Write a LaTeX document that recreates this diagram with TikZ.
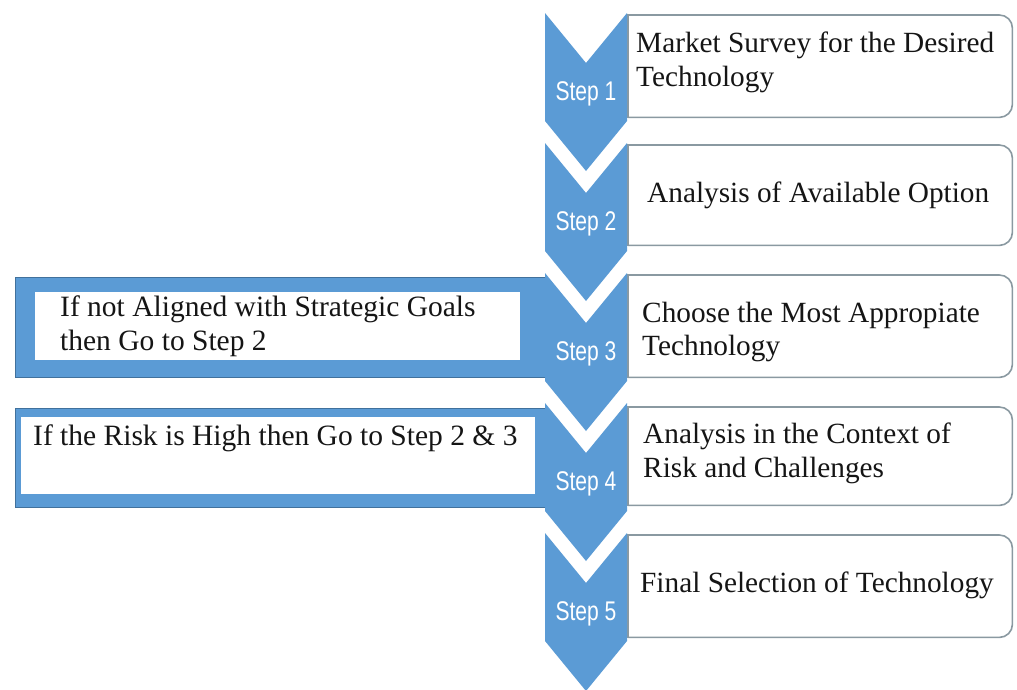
\documentclass[tikz,border=0pt]{standalone}
\usepackage{fontspec}
\setmainfont{Liberation Serif}
\newfontfamily\stepfont[FakeStretch=0.78]{Liberation Sans}
\definecolor{chevblue}{HTML}{5B9BD5}
\definecolor{edgeblue}{HTML}{41719C}
\definecolor{cardgray}{HTML}{8A99A1}
\definecolor{inkgray}{HTML}{151515}

\tikzset{
  chevfill/.style={fill=chevblue},
  steplabel/.style={inner sep=0pt, text=white, font=\stepfont\fontsize{27}{29}\selectfont},
  card/.style={fill=white, inner sep=0pt, minimum width=384pt, minimum height=#1},
  cardedge/.style={draw=cardgray, line width=1.6pt},
  cardtext/.style={anchor=base west, inner sep=0pt, text=inkgray, font=\fontsize{29.3}{34}\selectfont},
  notebox/.style={fill=chevblue, draw=edgeblue, line width=1pt, inner sep=0pt},
  notefield/.style={fill=white, inner sep=0pt},
}

% one chevron: #1 label node name, #2 top y, #3 label text
\newcommand\stepchevron[3]{%
  \fill[chevfill] (545,#2) -- (586,{#2+50}) -- (627,#2) -- (627,{#2+108})
    -- (586,{#2+158}) -- (545,{#2+108}) -- cycle;
  \node[steplabel] (#1) at (586,{#2+81}) {#3};
}

% right-hand card: square left corners, rounded right corners
\newcommand\stepcard[3]{% #1 name, #2 top, #3 bottom
  \node[card={#3-#2}, anchor=north west] (#1) at (628,#2) {};
  \draw[cardedge, rounded corners=13pt] (#1.north west) -- (#1.north east)
    -- (#1.south east) -- (#1.south west);
  \draw[cardedge, line cap=rect] (#1.south west) -- (#1.north west);
}

\begin{document}
\begin{tikzpicture}[x=1pt, y=-1pt]
\useasboundingbox (0,0) rectangle (1017,689);
\fill[white] (0,0) rectangle (1017,689);

% feedback notes on the left
\node[notebox, minimum width=530pt, minimum height=100pt, anchor=north west] (noteA) at (15,277) {};
\node[notefield, minimum width=485pt, minimum height=68pt, anchor=north west] (fieldA) at (35,292) {};
\node[notebox, minimum width=530pt, minimum height=99pt, anchor=north west] (noteB) at (15,408) {};
\node[notefield, minimum width=514pt, minimum height=77pt, anchor=north west] (fieldB) at (21,417) {};

\node[cardtext, font=\fontsize{29.5}{34}\selectfont] (tA1) at (60,316) {If not Aligned with Strategic Goals};
\node[cardtext, font=\fontsize{29.5}{34}\selectfont] (tA2) at (60,350) {then Go to Step 2};
\node[cardtext, font=\fontsize{29.5}{34}\selectfont] (tB1) at (33,445) {If the Risk is High then Go to Step 2 \& 3};

% step cards
\stepcard{c1}{15}{117}
\stepcard{c2}{145}{245}
\stepcard{c3}{275}{377}
\stepcard{c4}{407}{505}
\stepcard{c5}{535}{637}

\node[cardtext] (t1a) at (636,52) {Market Survey for the Desired};
\node[cardtext] (t1b) at (636,86) {Technology};
\node[cardtext] (t2a) at (647,202) {Analysis of Available Option};
\node[cardtext] (t3a) at (642,322) {Choose the Most Appropiate};
\node[cardtext] (t3b) at (642,355) {Technology};
\node[cardtext] (t4a) at (643,443) {Analysis in the Context of};
\node[cardtext] (t4b) at (643,477) {Risk and Challenges};
\node[cardtext] (t5a) at (640,592) {Final Selection of Technology};

% chevron column
\stepchevron{s1}{13}{Step 1}
\stepchevron{s2}{143}{Step 2}
\stepchevron{s3}{273}{Step 3}
\stepchevron{s4}{403}{Step 4}
\stepchevron{s5}{533}{Step 5}
\end{tikzpicture}
\end{document}
